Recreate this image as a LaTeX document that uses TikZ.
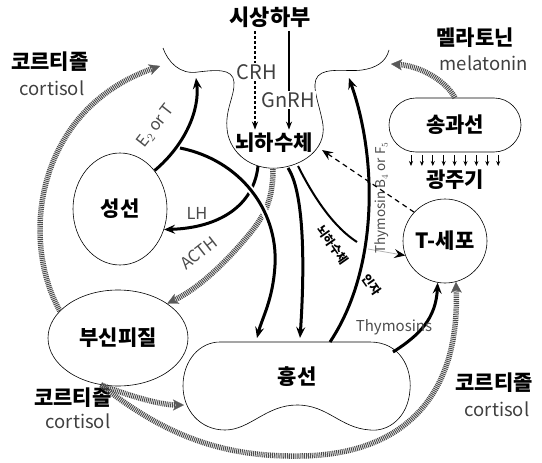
\documentclass[tikz,border=0pt]{standalone}
\usepackage{fontspec}
\setmainfont{Noto Sans CJK KR}
\usetikzlibrary{arrows.meta,shapes.geometric}

\tikzset{
  organ/.style={draw,line width=0.6pt,inner sep=0pt,font=\fontsize{21}{22}\selectfont\bfseries},
  kor/.style={font=\fontsize{21}{22}\selectfont\bfseries},
  eng/.style={font=\fontsize{18.5}{19}\selectfont,text=black!75},
  lbl/.style={font=\fontsize{16.5}{17}\selectfont,text=black!70},
  tiny/.style={font=\fontsize{12}{13}\selectfont\bfseries},
  heavy/.style={line width=3pt},
  halo/.style={preaction={draw=white,line width=7pt,arrows=-}},
  hatch/.style={draw=black!70,line width=5.5pt,dash pattern=on 1pt off 0.9pt},
  hatchtip/.style={-{Stealth[length=11pt,width=11pt,inset=3pt,line width=0.3pt,black!65]}},
}

\begin{document}
\begin{tikzpicture}[>={Stealth[length=11pt,width=9pt,inset=4pt]},x=1pt,y=-1pt]
\useasboundingbox (0,0) rectangle (542,463);
% floor of the hypothalamus with pituitary
\draw[line width=0.6pt] (163,48) .. controls (168,62) and (180,75) .. (198,72)
  .. controls (215,70) and (233,68) .. (234,82) .. controls (235,97) and (223,112) .. (228,135)
  .. controls (234,158) and (256,170) .. (278,168) .. controls (302,166) and (326,150) .. (323,125)
  .. controls (320,105) and (310,85) .. (318,76) .. controls (326,67) and (348,72) .. (362,70)
  .. controls (376,68) and (386,62) .. (389,50);

\node[kor,font=\fontsize{22}{23}\selectfont\bfseries] (hypo) at (270,17) {시상하부};
\node[kor] (pit) at (274,143) {뇌하수체};
\node[organ,ellipse,minimum width=94pt,minimum height=112pt] (gonad) at (120,209) {성선};
\node[organ,ellipse,minimum width=140pt,minimum height=96pt] (adrenal) at (118,338) {부신피질};
\node[organ,rectangle,rounded corners=27pt,minimum width=132pt,minimum height=54pt] (pineal) at (455,125) {송과선};
\node[organ,circle,minimum size=84pt] (tcell) at (445,241) {T-세포};
\node[kor] (thymus) at (297,377) {흉선};
\draw[line width=0.6pt] (220,342) -- (370,342) .. controls (400,342) and (412,368) .. (410,390)
  .. controls (408,418) and (388,432) .. (370,430) .. controls (340,428) and (328,405) .. (297,405)
  .. controls (266,405) and (250,430) .. (225,430) .. controls (200,430) and (183,410) .. (183,386)
  .. controls (183,360) and (200,342) .. (220,342) -- cycle;

\node[kor] (light) at (455,180) {광주기};
\node[kor] (melk) at (475,38) {멜라토닌};
\node[eng] (mel) at (484,63) {melatonin};
\node[kor] (cortk1) at (50,62) {코르티졸};
\node[eng] (cort1) at (52,88) {cortisol};
\node[kor] (cortk2) at (73,398) {코르티졸};
\node[eng] (cort2) at (78,421) {cortisol};
\node[kor] (cortk3) at (494,383) {코르티졸};
\node[eng] (cort3) at (497,409) {cortisol};

\coordinate (hypL) at (196,78);
\coordinate (hypR) at (349,78);
\coordinate (humpL) at (160,66);
\coordinate (humpR) at (391,64);
\coordinate (pitL) at (258,166);
\coordinate (pitA) at (273,169);
\coordinate (pitT) at (288,168);
\coordinate (pitF) at (298,166);
\coordinate (pitR) at (322,150);
\coordinate (junc) at (180,148);
\coordinate (fac) at (357,242);
\coordinate (fac2) at (368,249);
\coordinate (thyA) at (257,338);
\coordinate (thyT) at (300,338);
\coordinate (thyB) at (330,342);
\coordinate (thyC) at (393,352);
\coordinate (thyL) at (184,405);

% hypothalamus -> pituitary
\draw[line width=1.2pt,dash pattern=on 3pt off 2pt,->,>={Stealth[length=8pt,width=6pt]}]
  ([xshift=-15pt]hypo.south) -- ([xshift=-19pt]pit.north);
\draw[line width=1.2pt,->,>={Stealth[length=8pt,width=6pt]}]
  ([xshift=19pt]hypo.south) -- ([xshift=15pt]pit.north);
\node[eng,font=\fontsize{20}{21}\selectfont,fill=white,inner sep=1pt] at (257,72) {CRH};
\node[eng,font=\fontsize{20}{21}\selectfont,fill=white,inner sep=1pt] at (288,100) {GnRH};

% cortisol and melatonin
\draw[hatch,hatchtip] (adrenal.155) .. controls (20,240) and (35,110) .. (humpL);
\draw[hatch,hatchtip] (pineal.north) .. controls (445,80) and (420,66) .. (humpR);
\draw[hatch,hatchtip] (adrenal.-110) .. controls (140,400) and (165,405) .. (thyL);
\draw[hatch,hatchtip] (adrenal.-110) .. controls (170,440) and (230,457) .. (300,456)
  .. controls (400,455) and (460,400) .. (tcell.-75);

% pituitary hormones
\draw[heavy,->] (pitL) .. controls (254,205) and (220,228) .. (gonad.-25);
\node[lbl] at (197,213) {LH};
\draw[hatch,hatchtip] (pitA) .. controls (273,205) and (262,220) .. (240,245)
  .. controls (218,270) and (195,290) .. (adrenal.35);
\node[lbl,rotate=38] at (199,253) {ACTH};
\draw[heavy,halo,->] (junc) .. controls (240,160) and (278,210) .. (275,265)
  .. controls (273,300) and (262,318) .. (thyA);
\draw[heavy,->] (gonad.48) .. controls (185,145) and (200,110) .. (hypL);
\node[lbl,rotate=52] at (156,126) {E$_2$ or T};
\draw[heavy,->] (pitT) .. controls (306,195) and (304,280) .. (thyT);
\draw[line width=2pt] (pitF) .. controls (315,200) and (335,228) .. (fac);
\draw[black!30,line width=0.8pt,-{Stealth[length=11pt,width=9pt,inset=4pt,black]}] (fac2) -- (tcell.-160);
\node[tiny,rotate=-55] at (333,245) {뇌하수체};
\node[tiny,rotate=-55] at (372,285) {인자};

% thymus and T-cells
\draw[heavy,->] (thyB) .. controls (378,270) and (378,160) .. (hypR);
\node[lbl,font=\fontsize{13.5}{14}\selectfont,rotate=90] at (382,198) {Thymosin B$_4$ or F$_5$};
\draw[line width=1.2pt,dash pattern=on 5pt off 4pt,->] (tcell.137) -- (pitR);
\draw[heavy,->] (thyC) .. controls (420,335) and (436,318) .. (tcell.-100);
\node[lbl,font=\fontsize{15}{16}\selectfont] at (394,327) {Thymosins};

% photoperiod
\foreach \i in {0,...,8}{\draw[line width=0.8pt,->,>={Stealth[length=5pt,width=4pt]}] (411+\i*10.9,155) -- (411+\i*10.9,166);}
\end{tikzpicture}
\end{document}
